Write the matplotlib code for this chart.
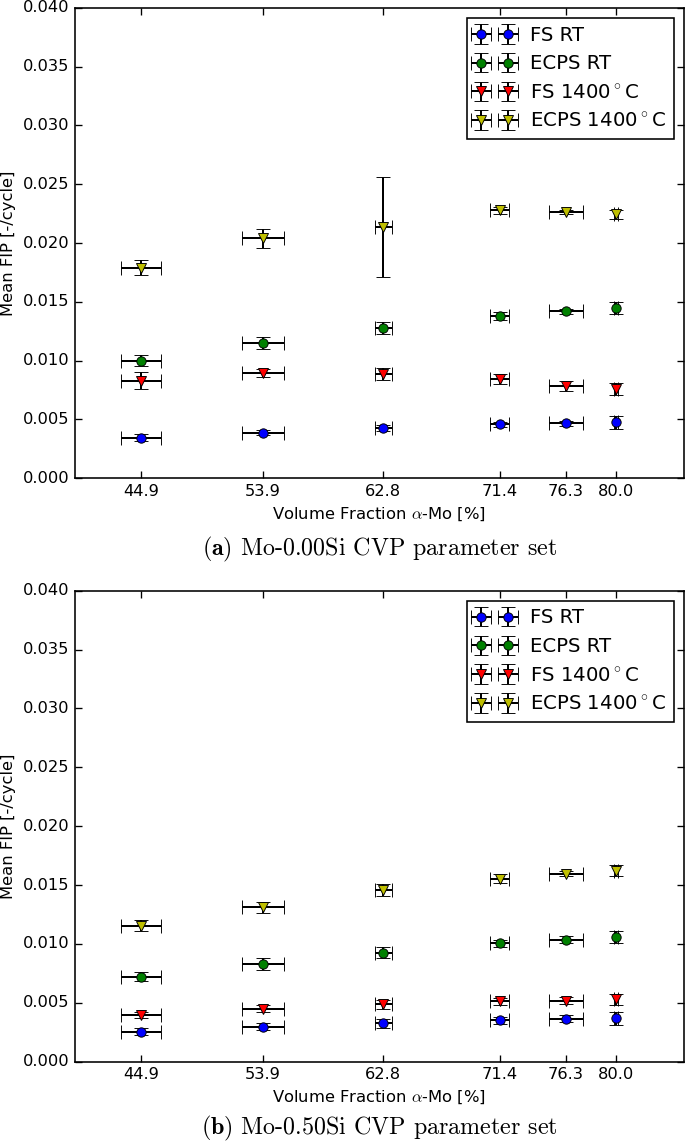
import matplotlib
matplotlib.use("Agg")
import matplotlib.pyplot as plt
from matplotlib.ticker import FormatStrFormatter

plt.style.use("classic")
plt.rcParams["figure.facecolor"] = "white"
plt.rcParams["savefig.facecolor"] = "white"
plt.rcParams["mathtext.fontset"] = "cm"

# ---------------- data ----------------
vol_frac = [44.9, 53.9, 62.8, 71.4, 76.3, 80.0]
vol_frac_err = [1.48, 1.53, 0.62, 0.72, 1.29, 0.15]
xtick_labels = ["44.9", "53.9", "62.8", "71.4", "76.3", "80.0"]

series_labels = ["FS RT", "ECPS RT", "FS 1400$^\\circ$C", "ECPS 1400$^\\circ$C"]
series_colors = ["b", "g", "r", "y"]
series_markers = ["o", "o", "v", "v"]

# (a) Mo-0.00Si
fs_rt_a = [0.00343, 0.00388, 0.00431, 0.00459, 0.00468, 0.00476]
fs_rt_a_err = [0.0003, 0.0002, 0.00025, 0.0002, 0.0002, 0.00055]
ecps_rt_a = [0.01001, 0.01148, 0.01281, 0.0138, 0.0142, 0.01448]
ecps_rt_a_err = [0.00045, 0.0005, 0.0005, 0.00037, 0.00022, 0.0005]
fs_ht_a = [0.0083, 0.00896, 0.00887, 0.00845, 0.00788, 0.00757]
fs_ht_a_err = [0.0007, 0.00037, 0.0005, 0.0004, 0.00042, 0.0005]
ecps_ht_a = [0.01791, 0.0204, 0.0214, 0.0228, 0.02265, 0.02245]
ecps_ht_a_err = [0.00065, 0.0008, 0.00425, 0.0003, 0.00015, 0.00037]

# (b) Mo-0.50Si
fs_rt_b = [0.00255, 0.00295, 0.00326, 0.00352, 0.00363, 0.00369]
fs_rt_b_err = [0.0003, 0.0003, 0.0004, 0.0003, 0.0003, 0.00055]
ecps_rt_b = [0.00723, 0.00828, 0.00927, 0.01004, 0.01035, 0.01058]
ecps_rt_b_err = [0.00037, 0.0005, 0.0005, 0.0003, 0.0003, 0.0005]
fs_ht_b = [0.004, 0.00448, 0.00488, 0.00513, 0.00519, 0.0053]
fs_ht_b_err = [0.00025, 0.0003, 0.0004, 0.0003, 0.0003, 0.00045]
ecps_ht_b = [0.01154, 0.0131, 0.01455, 0.01554, 0.01596, 0.01622]
ecps_ht_b_err = [0.00047, 0.00048, 0.0005, 0.0004, 0.0002, 0.00045]

captions = ["Mo-0.00Si CVP parameter set", "Mo-0.50Si CVP parameter set"]
caption_tags = ["(a)", "(b)"]

# ---------------- figure ----------------
W, H = 685, 1141
DPI = 96
fig = plt.figure(figsize=(W / DPI, H / DPI), dpi=DPI)

ax_boxes = [
    [74.7 / W, 1 - 478.3 / H, 609.0 / W, 470.5 / H],
    [74.7 / W, 1 - 1061.7 / H, 609.0 / W, 471.0 / H],
]
caption_y = [1 - 549 / H, 1 - 1128 / H]

panel_data = [
    [(fs_rt_a, fs_rt_a_err), (ecps_rt_a, ecps_rt_a_err), (fs_ht_a, fs_ht_a_err), (ecps_ht_a, ecps_ht_a_err)],
    [(fs_rt_b, fs_rt_b_err), (ecps_rt_b, ecps_rt_b_err), (fs_ht_b, fs_ht_b_err), (ecps_ht_b, ecps_ht_b_err)],
]

for i, box in enumerate(ax_boxes):
    ax = fig.add_axes(box)
    for (vals, errs), lab, col, mk in zip(panel_data[i], series_labels, series_colors, series_markers):
        ax.errorbar(vol_frac, vals, xerr=vol_frac_err, yerr=errs, fmt=mk, color=col,
                    markerfacecolor=col, markeredgecolor="k", markeredgewidth=0.7,
                    markersize=7, ecolor="k", elinewidth=1.5, capsize=5, capthick=1.5,
                    label=lab)
    ax.set_xlim(40, 85)
    ax.set_ylim(0, 0.04)
    ax.set_xticks(vol_frac)
    ax.set_xticklabels(xtick_labels)
    ax.set_yticks([0.0, 0.005, 0.01, 0.015, 0.02, 0.025, 0.03, 0.035, 0.04])
    ax.yaxis.set_major_formatter(FormatStrFormatter("%.3f"))
    ax.tick_params(direction="in", top=True, right=True, length=5, width=1, labelsize=12.2)
    for sp in ax.spines.values():
        sp.set_linewidth(1.2)
    ax.set_xlabel(r"Volume Fraction $\alpha$-Mo [%]", fontsize=12.3)
    ax.set_ylabel("Mean FIP [-/cycle]", fontsize=12.3)
    leg = ax.legend(loc="upper right", numpoints=2, fontsize=14.8, fancybox=False)
    leg.get_frame().set_edgecolor("k")
    leg.get_frame().set_linewidth(1.2)

    cx = (74.7 + 683.7) / 2 / W
    fig.text(cx, caption_y[i], r"$\mathbf{" + caption_tags[i] + r"}$ " + captions[i],
             ha="center", va="center", fontsize=18, family="cmr10")

fig.savefig("out.png", dpi=DPI)
